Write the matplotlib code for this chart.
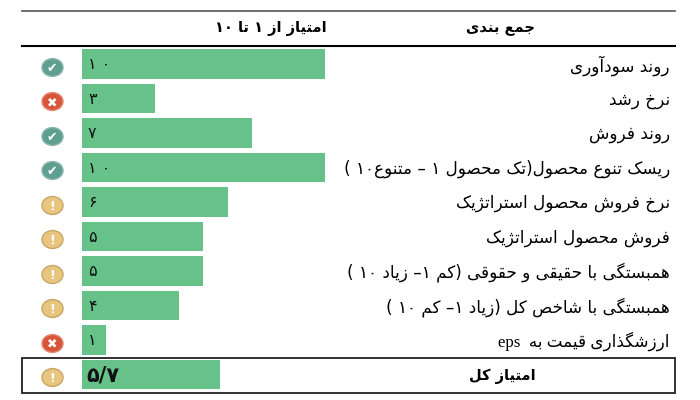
"""Persian score table drawn as a horizontal bar chart."""

import re

import matplotlib.pyplot as plt
from matplotlib.markers import MarkerStyle
from matplotlib.path import Path
from matplotlib.transforms import Affine2D

# --- data ---
labels = [
    "روند سودآوری",
    "نرخ رشد",
    "روند فروش",
    "ریسک تنوع محصول(تک محصول ۱ – متنوع۱۰ )",
    "نرخ فروش محصول استراتژیک",
    "فروش محصول استراتژیک",
    "همبستگی با حقیقی و حقوقی (کم ۱– زیاد ۱۰ )",
    "همبستگی با شاخص کل (زیاد ۱– کم ۱۰ )",
    "ارزشگذاری قیمت به  eps",
    "امتیاز کل",
]
scores = [10, 3, 7, 10, 6, 5, 5, 4, 1, 5.7]
score_labels = ["۱ ۰", "۳", "۷", "۱ ۰", "۶", "۵", "۵", "۴", "۱", "۵/۷"]
status = ["ok", "bad", "ok", "ok", "warn", "warn", "warn", "warn", "bad", "warn"]
header_left = "امتیاز از ۱ تا ۱۰"
header_right = "جمع بندی"

BAR = "#66C289"
ICONS = {
    "ok": ("#5F9F90", "#8DB8AE", "✔"),
    "bad": ("#D8543A", "#E58B78", "✖"),
    "warn": ("#E9C67F", "#C8A765", "!"),
}

# first code point of the isolated / final / initial / medial run
DUAL = {
    "ب": 0xFE8F, "ت": 0xFE95, "ج": 0xFE9D, "ح": 0xFEA1, "خ": 0xFEA5,
    "س": 0xFEB1, "ش": 0xFEB5, "ص": 0xFEB9, "ع": 0xFEC9, "ف": 0xFED1,
    "ق": 0xFED5, "ک": 0xFB8E, "گ": 0xFB92, "ل": 0xFEDD, "م": 0xFEE1,
    "ن": 0xFEE5, "ه": 0xFEE9, "ی": 0xFBFC,
}
RIGHT = {
    "ا": 0xFE8D, "آ": 0xFE81, "د": 0xFEA9, "ذ": 0xFEAB, "ر": 0xFEAD,
    "ز": 0xFEAF, "ژ": 0xFB8A, "و": 0xFEED,
}
MIRROR = {"(": ")", ")": "("}


def shape(text):
    # matplotlib has no bidi or arabic shaping, so do it by hand
    out = []
    for i, ch in enumerate(text):
        if ch in DUAL or ch in RIGHT:
            before = i > 0 and text[i - 1] in DUAL
            after = i + 1 < len(text) and (text[i + 1] in DUAL or text[i + 1] in RIGHT)
            if ch in RIGHT:
                out.append(chr(RIGHT[ch] + (1 if before else 0)))
            else:
                form = {(0, 0): 0, (1, 0): 1, (0, 1): 2, (1, 1): 3}[(int(before), int(after))]
                out.append(chr(DUAL[ch] + form))
        else:
            out.append(MIRROR.get(ch, ch))
    visual = "".join(out)[::-1]
    return re.sub(r"[A-Za-z0-9۰-۹]+", lambda m: m.group(0)[::-1], visual)


def px(x):
    return x / 700


def py(y):
    return 1 - y / 400


fig = plt.figure(figsize=(7, 4), dpi=100, facecolor="white")
ax = fig.add_axes([0, 0, 1, 1])
unit = 24.25
pitch = 34.5
ax.set_xlim(-82 / unit, (700 - 82) / unit)
ax.set_ylim((400 - 64) / pitch, -64 / pitch)
ax.axis("off")

rows = list(range(len(scores)))
ax.barh(rows, scores, height=29.5 / pitch, color=BAR, linewidth=0, zorder=2)

xt = ax.get_yaxis_transform()
ellipse = Path.unit_circle().transformed(Affine2D().scale(1, 0.85))
for i, (lab, val, st) in enumerate(zip(labels, score_labels, status)):
    last = i == len(labels) - 1
    ax.text(
        px(502) if last else px(670),
        i + 0.04,
        shape(lab),
        transform=xt,
        ha="center" if last else "right",
        va="center",
        fontsize=10.5 if last else 12.1,
        fontweight="bold" if last else "normal",
        family=["Liberation Serif", "DejaVu Sans"] if "eps" in lab else ["DejaVu Sans"],
        color="black",
        zorder=4,
    )
    ax.text(
        px(86 if last else 88),
        i + 0.02,
        val,
        transform=xt,
        ha="left",
        va="center",
        fontsize=15 if last else 11.5,
        fontweight="bold" if last else "normal",
        color="#111111",
        zorder=4,
    )
    face, edge, glyph = ICONS[st]
    ax.scatter(
        px(52),
        i + 0.08,
        s=230,
        marker=MarkerStyle(ellipse),
        facecolor=face,
        edgecolor=edge,
        linewidth=1.0,
        transform=xt,
        zorder=3,
    )
    ax.text(
        px(52),
        i + 0.08,
        glyph,
        transform=xt,
        ha="center",
        va="center_baseline",
        fontsize=9,
        fontweight="bold",
        color="white",
        zorder=4,
    )

# header rules and the total box
ax.plot([px(22), px(675)], [py(11), py(11)], color="#555555", lw=1.2, transform=ax.transAxes, zorder=1)
ax.plot([px(22), px(675)], [py(46), py(46)], color="black", lw=1.5, transform=ax.transAxes, zorder=1)

fig.text(px(271), py(28), shape(header_left), ha="center", va="center", fontsize=10.5, fontweight="bold")
fig.text(px(500), py(28), shape(header_right), ha="center", va="center", fontsize=10.5, fontweight="bold")
ax.add_patch(
    plt.Rectangle(
        (px(22.5), py(392.5)),
        px(652.5),
        34.5 / 400,
        transform=ax.transAxes,
        fill=False,
        edgecolor="#222222",
        lw=1.3,
        zorder=1,
    )
)

fig.savefig("out.png", dpi=100, facecolor="white")
